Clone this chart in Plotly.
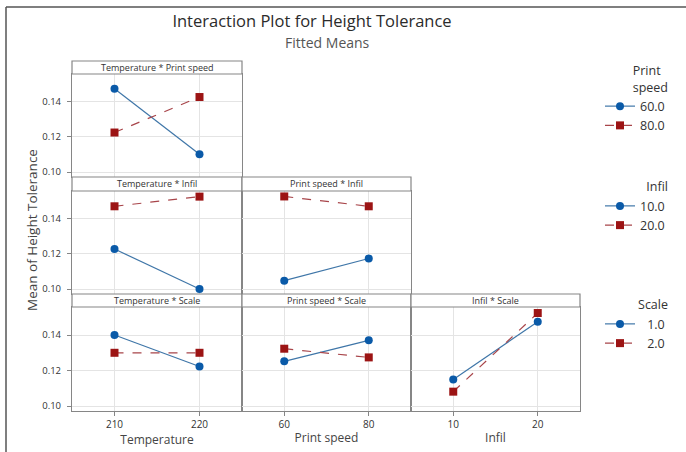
import plotly.graph_objects as go

# ---------------- data ----------------
temperature = [210, 220]
print_speed = [60, 80]
infil = [10, 20]

temp_ps_60 = [0.1474, 0.1102]
temp_ps_80 = [0.1225, 0.1427]
temp_infil_10 = [0.1228, 0.1000]
temp_infil_20 = [0.1471, 0.1526]
ps_infil_10 = [0.1048, 0.1174]
ps_infil_20 = [0.1527, 0.1471]
temp_scale_1 = [0.1400, 0.1223]
temp_scale_2 = [0.1300, 0.1300]
ps_scale_1 = [0.1252, 0.1370]
ps_scale_2 = [0.1323, 0.1274]
infil_scale_1 = [0.1149, 0.1475]
infil_scale_2 = [0.1081, 0.1524]

y_ticks = [0.10, 0.12, 0.14]
y_tick_text = ["0.10", "0.12", "0.14"]
x_titles = ["Temperature", "Print speed", "Infil"]
x_levels = [temperature, print_speed, infil]
x_ranges = [[205, 225], [50, 90], [5, 25]]
y_range = [0.0972, 0.1558]

ps_names = ["60.0", "80.0"]
infil_names = ["10.0", "20.0"]
scale_names = ["\u20071.0", "\u20072.0"]

panels = [
    # row, col, strip title, series, legend names, legend, show legend
    (0, 0, "Temperature * Print speed", [temp_ps_60, temp_ps_80], ps_names, "legend", True),
    (1, 0, "Temperature * Infil", [temp_infil_10, temp_infil_20], infil_names, "legend2", True),
    (1, 1, "Print speed * Infil", [ps_infil_10, ps_infil_20], infil_names, "legend2", False),
    (2, 0, "Temperature * Scale", [temp_scale_1, temp_scale_2], scale_names, "legend3", True),
    (2, 1, "Print speed * Scale", [ps_scale_1, ps_scale_2], scale_names, "legend3", False),
    (2, 2, "Infil * Scale", [infil_scale_1, infil_scale_2], scale_names, "legend3", False),
]

# ---------------- geometry / style ----------------
W, H = 686, 452
FONT = "Open Sans"
col_px = [(72, 242), (242, 411), (411, 580)]
row_px = [(74, 177), (191, 294), (307, 411)]
strip_px = [(61, 74), (177, 191), (294, 307)]

BLUE_M = "#0a5aa8"
BLUE_L = "#3f76a8"
RED_M = "#9c1414"
RED_L = "#a8454a"
FRAME = "#868686"
GRID = "#e4e4e4"
TXT = "#333333"


def fx(x):
    return x / W


def fy(y):
    return 1 - y / H


fig = go.Figure()
layout = {}
shapes = []
annotations = []

styles = [
    dict(mode="lines+markers", line=dict(color=BLUE_L, width=1.2),
         marker=dict(symbol="circle", size=8, color=BLUE_M)),
    dict(mode="lines+markers", line=dict(color=RED_L, width=1.2, dash="dash"),
         marker=dict(symbol="square", size=8, color=RED_M)),
]

for i, (r, c, title, series, names, leg, showleg) in enumerate(panels):
    k = i + 1
    xs = "" if k == 1 else str(k)
    xa, ya = "xaxis" + xs, "yaxis" + xs
    x0, x1 = col_px[c]
    y0, y1 = row_px[r]
    bottom = r == 2
    left = c == 0
    layout[xa] = dict(
        domain=[fx(x0), fx(x1)], anchor="y" + xs, range=x_ranges[c],
        tickvals=x_levels[c], ticktext=[str(v) for v in x_levels[c]],
        showgrid=True, gridcolor=GRID, gridwidth=1, zeroline=False,
        showline=True, linecolor=FRAME, linewidth=1.2, mirror=True,
        showticklabels=bottom, ticks="outside" if bottom else "",
        ticklen=4, tickcolor=FRAME,
        tickfont=dict(family=FONT, size=10, color=TXT),
        title=dict(text=x_titles[c] if bottom else "", standoff=3,
                   font=dict(family=FONT, size=12, color="#444444")),
        fixedrange=True,
    )
    layout[ya] = dict(
        domain=[fy(y1), fy(y0)], anchor="x" + xs, range=y_range,
        tickvals=y_ticks, ticktext=y_tick_text,
        showgrid=True, gridcolor=GRID, gridwidth=1, zeroline=False,
        showline=True, linecolor=FRAME, linewidth=1.2, mirror=True,
        showticklabels=left, ticks="outside" if left else "",
        ticklen=4, tickcolor=FRAME, ticklabelstandoff=4,
        tickfont=dict(family=FONT, size=9.5, color=TXT),
        fixedrange=True,
    )
    # strip header
    s0, s1 = strip_px[r]
    shapes.append(dict(type="rect", xref="paper", yref="paper",
                       x0=fx(x0), x1=fx(x1), y0=fy(s1), y1=fy(s0),
                       fillcolor="white", line=dict(color=FRAME, width=1.2)))
    annotations.append(dict(text=title, xref="paper", yref="paper",
                            x=fx((x0 + x1) / 2), y=fy((s0 + s1) / 2),
                            showarrow=False, xanchor="center", yanchor="middle",
                            font=dict(family=FONT, size=9, color=TXT)))
    for j, (vals, nm) in enumerate(zip(series, names)):
        fig.add_trace(go.Scatter(
            x=x_levels[c], y=vals, name=nm, xaxis="x" + xs, yaxis="y" + xs,
            legend=leg, showlegend=showleg, hoverinfo="x+y", **styles[j]))

# outer frame (top and left edges)
shapes.append(dict(type="line", xref="paper", yref="paper",
                   x0=fx(6), x1=1, y0=fy(7), y1=fy(7),
                   line=dict(color="#555555", width=1.5)))
shapes.append(dict(type="line", xref="paper", yref="paper",
                   x0=fx(6), x1=fx(6), y0=0, y1=fy(7),
                   line=dict(color="#555555", width=1.5)))

# subtitle
annotations.append(dict(text="Fitted Means", xref="paper", yref="paper",
                        x=fx(327), y=fy(42), showarrow=False,
                        xanchor="center", yanchor="middle",
                        font=dict(family=FONT, size=14, color="#555555")))
# y-axis title
annotations.append(dict(text="Mean of Height Tolerance", xref="paper", yref="paper",
                        x=fx(32), y=fy(230), showarrow=False, textangle=-90,
                        xanchor="center", yanchor="middle",
                        font=dict(family=FONT, size=13.5, color="#444444")))

leg_common = dict(xref="paper", yref="paper", xanchor="left", yanchor="top",
                  bgcolor="rgba(0,0,0,0)", font=dict(family=FONT, size=12.5, color=TXT),
                  itemclick=False, itemdoubleclick=False, tracegroupgap=0)

layout["legend"] = dict(x=fx(600), y=fy(59),
                        title=dict(text="Print<br>speed", side="top right",
                                   font=dict(family=FONT, size=12.5, color=TXT)),
                        **leg_common)
layout["legend2"] = dict(x=fx(600), y=fy(175),
                         title=dict(text="Infil", side="top right",
                                    font=dict(family=FONT, size=12.5, color=TXT)),
                         **leg_common)
layout["legend3"] = dict(x=fx(600), y=fy(293),
                         title=dict(text="Scale", side="top right",
                                    font=dict(family=FONT, size=12.5, color=TXT)),
                         **leg_common)

fig.update_layout(
    width=W, height=H,
    margin=dict(l=0, r=0, t=0, b=0),
    paper_bgcolor="white", plot_bgcolor="white",
    title=dict(text="Interaction Plot for Height Tolerance",
               x=fx(312), y=fy(21), xanchor="center", yanchor="middle",
               xref="paper", yref="paper",
               font=dict(family=FONT, size=16.5, color="#2b2b2b")),
    shapes=shapes, annotations=annotations,
    **layout,
)

fig.write_html("out.html")
